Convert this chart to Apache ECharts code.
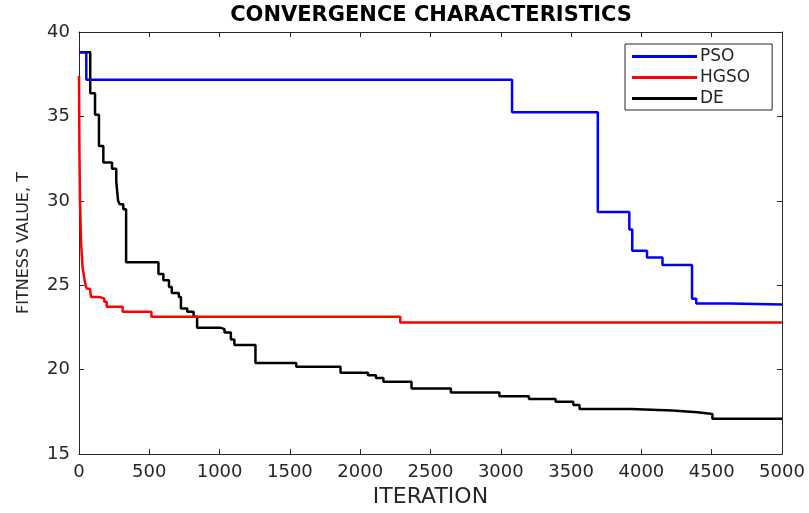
<!DOCTYPE html>
<html>
<head>
<meta charset="utf-8">
<script src="https://cdn.jsdelivr.net/npm/echarts@6/dist/echarts.min.js"></script>
<style>
  html, body { margin: 0; padding: 0; background: #fff; }
  #chart { width: 809px; height: 513px; }
</style>
</head>
<body>
<div id="chart"></div>
<script>
// step points: [iteration, fitness], each value held until the next point
const psoData = [
  [0, 38.8], [52, 37.17], [3080, 35.24], [3690, 29.34], [3914, 28.3],
  [3935, 27.04], [4040, 26.65], [4150, 26.2], [4360, 24.2], [4390, 23.92],
  [4630, 23.86], [5000, 23.86]
];
const hgsoData = [
  [0, 37.4], [3, 33.0], [7, 30.0], [15, 27.5], [25, 26.1], [38, 25.4],
  [48, 24.95], [55, 24.8], [78, 24.7], [85, 24.31], [145, 24.21],
  [180, 24.02], [197, 23.72], [310, 23.43], [515, 23.14], [2285, 22.79],
  [5000, 22.79]
];
const deData = [
  [0, 38.8], [80, 36.37], [114, 35.1], [142, 33.25], [173, 32.27],
  [235, 31.9], [265, 31.15], [278, 30.0], [290, 29.8], [315, 29.5],
  [335, 26.36], [565, 25.67], [600, 25.29], [640, 24.9], [660, 24.54],
  [710, 24.31], [725, 23.62], [770, 23.43], [815, 23.14], [840, 22.49],
  [1005, 22.4], [1035, 22.2], [1080, 21.79], [1105, 21.46], [1255, 20.4],
  [1545, 20.17], [1860, 19.82], [2055, 19.67], [2112, 19.51], [2165, 19.28],
  [2365, 18.88], [2645, 18.65], [2990, 18.42], [3200, 18.26], [3390, 18.1],
  [3516, 17.91], [3560, 17.67], [3925, 17.58], [4220, 17.48], [4398, 17.38],
  [4505, 17.09], [5000, 17.09]
];
const seriesNames = ['PSO', 'HGSO', 'DE'];
const seriesColors = ['#0000ff', '#ff0000', '#000000'];

const chart = echarts.init(document.getElementById('chart'), null, { renderer: 'canvas' });

const axisColor = '#262626';
const font = 'DejaVu Sans';

function boxAxis(pos, min, max, interval, showLabel) {
  return {
    type: 'value',
    position: pos,
    min: min,
    max: max,
    interval: interval,
    axisLine: { show: true, onZero: false, lineStyle: { color: axisColor, width: 1 } },
    axisTick: { show: true, inside: true, length: 5, lineStyle: { color: axisColor } },
    axisLabel: {
      show: showLabel, color: axisColor, fontFamily: font, fontSize: 18, margin: 9,
      formatter: function (v) { return String(v); }
    },
    splitLine: { show: false }
  };
}

const xMain = boxAxis('bottom', 0, 5000, 500, true);
xMain.name = 'ITERATION';
xMain.nameLocation = 'middle';
xMain.nameGap = 31;
xMain.nameTextStyle = { color: axisColor, fontFamily: font, fontSize: 22 };

const yMain = boxAxis('left', 15, 40, 5, true);
yMain.name = 'FITNESS VALUE, T';
yMain.nameLocation = 'middle';
yMain.nameGap = 47;
yMain.nameTextStyle = { color: axisColor, fontFamily: font, fontSize: 16 };

const option = {
  backgroundColor: '#fff',
  animation: false,
  title: {
    text: 'CONVERGENCE CHARACTERISTICS',
    left: 431,
    top: 5,
    textAlign: 'center',
    padding: 0,
    textStyle: { color: '#000', fontFamily: font, fontWeight: 'bold', fontSize: 21 }
  },
  legend: {
    data: seriesNames,
    orient: 'vertical',
    left: 625,
    top: 44,
    padding: [4, 22, 3, 7],
    itemGap: 4,
    itemWidth: 65,
    itemHeight: 3,
    icon: 'rect',
    borderColor: axisColor,
    borderWidth: 1,
    backgroundColor: '#fff',
    textStyle: { color: axisColor, fontFamily: font, fontSize: 17, padding: [0, 0, 0, -2] }
  },
  grid: { left: 79, right: 27, top: 32, bottom: 54 },
  xAxis: [xMain, boxAxis('top', 0, 5000, 500, false)],
  yAxis: [yMain, boxAxis('right', 15, 40, 5, false)],
  series: [psoData, hgsoData, deData].map(function (d, i) {
    return {
      name: seriesNames[i],
      type: 'line',
      step: 'end',
      data: d,
      showSymbol: false,
      symbol: 'none',
      color: seriesColors[i],
      lineStyle: { color: seriesColors[i], width: 2.5 },
      z: 3 - i
    };
  })
};
chart.setOption(option);
</script>
</body>
</html>
